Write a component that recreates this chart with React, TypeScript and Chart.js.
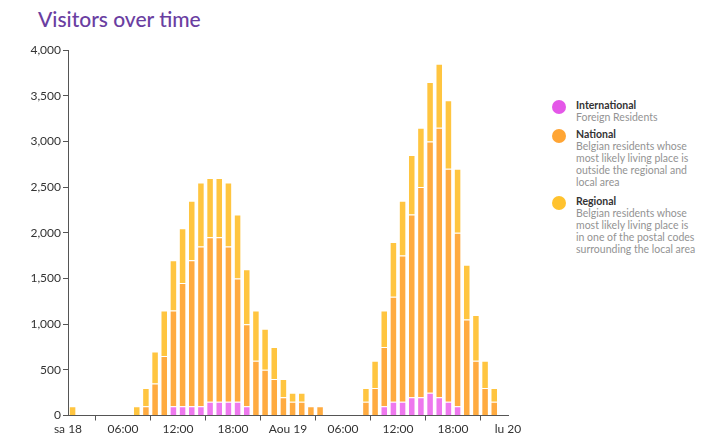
import React, { useEffect, useRef } from "react";
import { Chart, registerables } from "chart.js";

Chart.register(...registerables);

// hourly buckets, sa 18 00:00 -> lu 20 00:00 (48 hours)
const hours = [
  0, 1, 2, 3, 4, 5, 6, 7, 8, 9, 10, 11, 12, 13, 14, 15, 16, 17, 18, 19, 20, 21, 22, 23,
  24, 25, 26, 27, 28, 29, 30, 31, 32, 33, 34, 35, 36, 37, 38, 39, 40, 41, 42, 43, 44, 45, 46, 47,
];

const international = [
  0, 0, 0, 0, 0, 0, 0, 0, 0, 0, 0, 100, 100, 100, 100, 150, 150, 150, 150, 100, 0, 0, 0, 0,
  0, 0, 0, 0, 0, 0, 0, 0, 0, 0, 100, 150, 150, 200, 200, 250, 200, 150, 100, 0, 0, 0, 0, 0,
];

const national = [
  0, 0, 0, 0, 0, 0, 0, 0, 100, 350, 650, 1050, 1350, 1600, 1750, 1800, 1800, 1700, 1350, 900, 600, 500, 400, 200,
  150, 150, 100, 100, 0, 0, 0, 0, 150, 300, 650, 1150, 1600, 2000, 2300, 2750, 2950, 2550, 1900, 1050, 600, 300, 150, 0,
];

const regional = [
  100, 0, 0, 0, 0, 0, 0, 100, 200, 350, 500, 550, 600, 650, 700, 650, 650, 700, 700, 600, 550, 450, 350, 200,
  100, 100, 0, 0, 0, 0, 0, 0, 150, 300, 400, 600, 600, 650, 650, 650, 700, 750, 700, 600, 500, 300, 150, 0,
];

const xTickValues = [0, 6, 12, 18, 24, 30, 36, 42, 48];
const xTickLabels = ["sa 18", "06:00", "12:00", "18:00", "Aou 19", "06:00", "12:00", "18:00", "lu 20"];

const legendItems = [
  { name: "International", color: "#e457e8", desc: ["Foreign Residents"] },
  {
    name: "National",
    color: "#ffa534",
    desc: ["Belgian residents whose", "most likely living place is", "outside the regional and", "local area"],
  },
  {
    name: "Regional",
    color: "#ffc22e",
    desc: ["Belgian residents whose", "most likely living place is", "in one of the postal codes", "surrounding the local area"],
  },
];

const FONT = "Lato, 'Open Sans', sans-serif";

export default function App() {
  const canvasRef = useRef<HTMLCanvasElement | null>(null);

  useEffect(() => {
    if (!canvasRef.current) return;
    const toPoints = (arr: number[]) => arr.map((v, i) => ({ x: hours[i] + 0.5, y: v }));
    const common = {
      stack: "all",
      borderWidth: 1,
      borderSkipped: "start" as const,
      barPercentage: 0.82,
      categoryPercentage: 1,
    };
    const chart = new Chart(canvasRef.current, {
      type: "bar",
      data: {
        datasets: [
          { ...common, label: "International", data: toPoints(international), backgroundColor: "#ee78ee", borderColor: "rgba(255,255,255,0.35)" },
          { ...common, label: "National", data: toPoints(national), backgroundColor: "#ffab40", borderColor: "rgba(255,255,255,0.35)" },
          { ...common, label: "Regional", data: toPoints(regional), backgroundColor: "#ffc540", borderColor: "rgba(255,255,255,0.45)" },
        ] as any,
      },
      options: {
        animation: false,
        responsive: false,
        maintainAspectRatio: false,
        layout: { padding: { top: 50, right: 22, left: 0, bottom: 0 } },
        plugins: { legend: { display: false }, tooltip: { enabled: false }, title: { display: false } },
        scales: {
          x: {
            type: "linear",
            min: 0,
            max: 48,
            offset: false,
            afterFit: (scale: any) => {
              scale.height = 32.5;
            },
            afterBuildTicks: (scale: any) => {
              scale.ticks = xTickValues.map((v) => ({ value: v }));
            },
            ticks: {
              stepSize: 6,
              autoSkip: false,
              maxRotation: 0,
              padding: 1,
              color: "#333",
              font: { family: FONT, size: 12 },
              callback: (value: any) => {
                const idx = xTickValues.indexOf(Number(value));
                return idx >= 0 ? xTickLabels[idx] : "";
              },
            },
            grid: { display: true, drawOnChartArea: false, drawTicks: true, tickLength: 5, color: "#555" },
            border: { display: true, color: "#555", width: 1 },
          },
          y: {
            min: 0,
            max: 4000,
            afterFit: (scale: any) => {
              scale.width = 68;
            },
            ticks: {
              stepSize: 500,
              padding: 2,
              color: "#333",
              font: { family: FONT, size: 12 },
              callback: (value: any) => Number(value).toLocaleString("en-US"),
            },
            grid: { display: true, drawOnChartArea: false, drawTicks: true, tickLength: 5, color: "#555" },
            border: { display: true, color: "#555", width: 1 },
          },
        },
      },
    });
    return () => chart.destroy();
  }, []);

  return (
    <div style={{ position: "absolute", left: 0, top: 0, width: 705, height: 448, background: "#fff", overflow: "hidden", fontFamily: FONT }}>
      <div
        style={{
          position: "absolute",
          left: 38,
          top: 8,
          fontSize: 21,
          lineHeight: "21px",
          color: "#6a3ea1",
          fontWeight: 500,
          whiteSpace: "nowrap",
        }}
      >
        Visitors over time
      </div>
      <canvas ref={canvasRef} width={530} height={448} style={{ position: "absolute", left: 0, top: 0, width: 530, height: 448 }} />
      <div style={{ position: "absolute", left: 0, top: 0 }}>
        {legendItems.map((item, k) => {
          const tops = [99, 128, 195];
          const top = tops[k];
          return (
            <div key={item.name} style={{ position: "absolute", left: 0, top: top, width: 705 }}>
              <div
                style={{
                  position: "absolute",
                  left: 552,
                  top: 7 - 7 + 1,
                  width: 14,
                  height: 14,
                  borderRadius: 7,
                  background: item.color,
                }}
              />
              <div style={{ position: "absolute", left: 576, top: 0, fontSize: 10.5, lineHeight: "12px", whiteSpace: "nowrap" }}>
                <div style={{ color: "#333", fontWeight: 700 }}>{item.name}</div>
                {item.desc.map((d, i) => (
                  <div key={i} style={{ color: "#939393" }}>
                    {d}
                  </div>
                ))}
              </div>
            </div>
          );
        })}
      </div>
    </div>
  );
}
